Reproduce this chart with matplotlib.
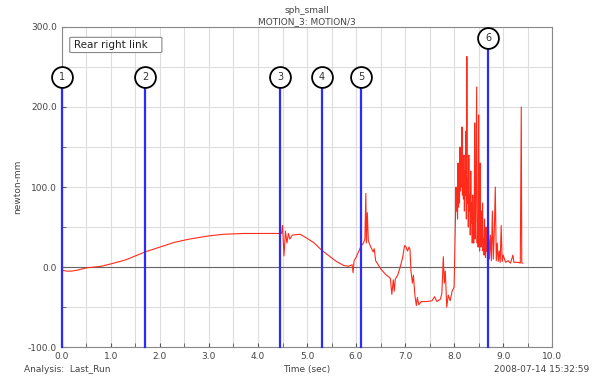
import matplotlib
matplotlib.use("Agg")
import matplotlib.pyplot as plt
from matplotlib.patches import FancyBboxPatch
from matplotlib.ticker import MultipleLocator, FormatStrFormatter

# Torque trace
time = [0.0, 0.1, 0.2, 0.3, 0.5, 0.8, 1.0, 1.3, 1.7, 2.0, 2.3, 2.6, 3.0, 3.3, 3.7, 4.0, 4.4,
        4.48, 4.50, 4.53, 4.56, 4.59, 4.62, 4.65, 4.70, 4.86, 5.0, 5.15, 5.3, 5.45, 5.6, 5.75,
        5.85, 5.92, 5.94, 5.96, 6.0, 6.1, 6.15, 6.18, 6.2, 6.21, 6.23, 6.25, 6.3, 6.35, 6.37,
        6.4, 6.5, 6.6, 6.7, 6.73, 6.76, 6.78, 6.8, 6.85, 6.9, 6.95, 6.99, 7.02, 7.05, 7.08,
        7.1, 7.12, 7.15, 7.17, 7.2, 7.23, 7.25, 7.28, 7.33, 7.45, 7.55, 7.6, 7.65, 7.72, 7.75,
        7.78, 7.8, 7.82, 7.85, 7.88, 7.92, 7.96, 8.0, 8.02, 8.04, 8.05, 8.06, 8.07, 8.08, 8.09,
        8.1, 8.11, 8.12, 8.13, 8.14, 8.15, 8.16, 8.17, 8.18, 8.19, 8.2, 8.21, 8.22, 8.23, 8.24,
        8.25, 8.26, 8.27, 8.28, 8.29, 8.3, 8.31, 8.32, 8.33, 8.34, 8.35, 8.36, 8.37, 8.38, 8.39,
        8.4, 8.41, 8.42, 8.43, 8.44, 8.45, 8.46, 8.47, 8.48, 8.49, 8.5, 8.51, 8.52, 8.53, 8.54,
        8.55, 8.56, 8.57, 8.58, 8.59, 8.6, 8.61, 8.62, 8.63, 8.64, 8.65, 8.66, 8.67, 8.68, 8.7,
        8.72, 8.74, 8.76, 8.78, 8.8, 8.82, 8.84, 8.86, 8.88, 8.9, 8.92, 8.94, 8.96, 8.98, 9.0,
        9.05, 9.1, 9.15, 9.2, 9.22, 9.3, 9.35, 9.37, 9.38, 9.4]
torque = [-4, -5, -5, -4, -1, 1, 4, 9, 19, 25, 31, 35, 39, 41, 42, 42, 42,
          42, 52, 14, 45, 30, 42, 35, 40, 41, 36, 30, 21, 14, 7, 2,
          1, 3, -7, 8, 12, 26, 30, 35, 92, 30, 68, 33, 25, 19, 23,
          8, -2, -9, -14, -34, -16, -30, -15, -10, 0, 12, 27, 25, 20, 25,
          22, -5, -20, -10, -35, -48, -38, -47, -43, -43, -42, -37, -43, -40, -33,
          13, -20, -5, -50, -35, -42, -30, -25, 40, 100, 70, 95, 60, 130, 75,
          110, 80, 150, 95, 120, 100, 175, 90, 130, 85, 140, 70, 120, 90, 170,
          60, 263, 80, 110, 50, 140, 70, 90, 40, 120, 55, 80, 30, 90, 45,
          30, 60, 180, 35, 60, 150, 225, 30, 60, 25, 190, 40, 20, 130, 55,
          25, 70, 30, 80, 20, 35, 15, 60, 25, 12, 50, 20, 40, 10, 55,
          10, 40, 8, 70, 10, 45, 100, 8, 30, 7, 20, 6, 52, 7, 15,
          6, 8, 5, 15, 6, 6, 5, 200, 5, 5]

# Markers: position and label height
marker_x = [0.0, 1.7, 4.45, 5.3, 6.1, 8.7]
marker_y = [238, 238, 238, 238, 238, 286]
marker_labels = ["1", "2", "3", "4", "5", "6"]

fig = plt.figure(figsize=(5.95, 3.79), dpi=100)
ax = fig.add_axes([0.104, 0.084, 0.824, 0.845])

ax.set_xlim(0, 10)
ax.set_ylim(-100, 300)
ax.xaxis.set_major_locator(MultipleLocator(1))
ax.xaxis.set_minor_locator(MultipleLocator(0.5))
ax.yaxis.set_major_locator(MultipleLocator(100))
ax.yaxis.set_minor_locator(MultipleLocator(50))
ax.xaxis.set_major_formatter(FormatStrFormatter("%.1f"))
ax.yaxis.set_major_formatter(FormatStrFormatter("%.1f"))
ax.grid(True, which="both", color="#dddddd", linewidth=0.8)
ax.set_axisbelow(True)
ax.tick_params(which="both", direction="in", length=3, labelsize=6.5,
               colors="#555555", labelcolor="#444444")
for s in ax.spines.values():
    s.set_color("#888888")
    s.set_linewidth(0.8)
ax.axhline(0, color="#666666", linewidth=0.8, zorder=1)

ax.plot(time, torque, color="#ff2a1a", linewidth=0.8, zorder=3)

r = 13
for mx, my, lab in zip(marker_x, marker_y, marker_labels):
    ax.plot([mx, mx], [-100, my - r], color="#2b2bff", linewidth=1.6, zorder=4, clip_on=False)
    ax.plot(mx, my, marker="o", markersize=15, markerfacecolor="white",
            markeredgecolor="black", markeredgewidth=1.3, zorder=5, clip_on=False)
    ax.text(mx, my, lab, ha="center", va="center", fontsize=7, color="#333333", zorder=6)

box = FancyBboxPatch((0.16, 268), 1.88, 19, boxstyle="round,pad=0,rounding_size=0.06",
                     fc="white", ec="#888888", lw=0.8, zorder=6,
                     mutation_aspect=12)
ax.add_patch(box)
ax.text(0.24, 277.5, "Rear right link", fontsize=7.5, color="#222222", va="center", zorder=7)

ax.set_ylabel("newton-mm", fontsize=6.5, color="#444444")
fig.text(0.516, 0.985, "sph_small", ha="center", va="top", fontsize=6.5, color="#444444")
fig.text(0.516, 0.955, "MOTION_3: MOTION/3", ha="center", va="top", fontsize=6.5, color="#444444")
fig.text(0.516, 0.012, "Time (sec)", ha="center", va="bottom", fontsize=6.5, color="#444444")
fig.text(0.04, 0.012, "Analysis:  Last_Run", ha="left", va="bottom", fontsize=6.5, color="#444444")
fig.text(0.99, 0.012, "2008-07-14 15:32:59", ha="right", va="bottom", fontsize=6.5, color="#444444")

fig.savefig("out.png", dpi=100)
